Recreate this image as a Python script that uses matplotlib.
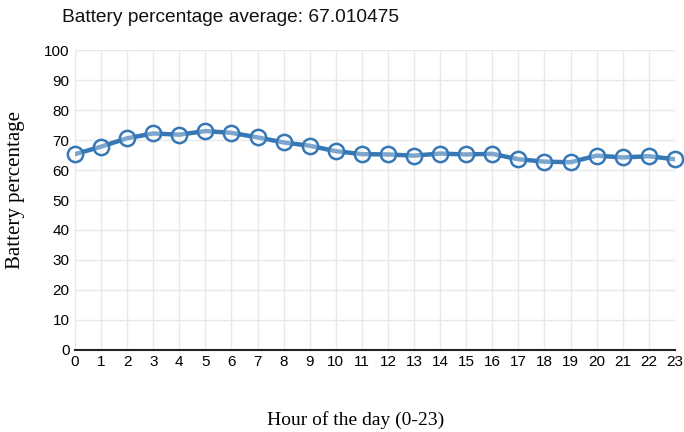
import matplotlib
matplotlib.use("Agg")
import matplotlib.pyplot as plt

# hourly averages
hours = list(range(24))
battery = [65.3, 67.8, 70.6, 72.2, 71.8, 73.0, 72.4, 70.9,
           69.2, 68.1, 66.3, 65.3, 65.2, 64.8, 65.5, 65.2,
           65.4, 63.6, 62.8, 62.6, 64.8, 64.2, 64.6, 63.6]
y_ticks = list(range(0, 101, 10))
title_text = "Battery percentage average: 67.010475"

line_color = "#3677b5"

fig = plt.figure(figsize=(6.84, 4.32), dpi=100)
ax = fig.add_axes([0.1096, 0.19, 0.877, 0.694])

ax.plot(hours, battery, color=line_color, linewidth=3.2, zorder=3,
        solid_capstyle="round", solid_joinstyle="round")
ax.plot(hours, battery, linestyle="none", marker="o", markersize=11,
        markerfacecolor=(1, 1, 1, 0.35), markeredgecolor=line_color,
        markeredgewidth=1.8, zorder=4, clip_on=False)

ax.set_xlim(0, 23)
ax.set_ylim(0, 100)
ax.set_xticks(hours)
ax.set_yticks(y_ticks)
ax.grid(True, color="#e8e8e8", linewidth=1.0)
ax.set_axisbelow(True)

for side in ["top", "right", "left"]:
    ax.spines[side].set_visible(False)
ax.spines["bottom"].set_color("#222222")
ax.spines["bottom"].set_linewidth(1.5)
ax.spines["bottom"].set_zorder(5)

ax.tick_params(axis="both", length=0, labelsize=11, colors="#000000")
ax.tick_params(axis="x", pad=4)
ax.tick_params(axis="y", pad=4)
for lbl in ax.get_xticklabels() + ax.get_yticklabels():
    lbl.set_fontfamily("Liberation Sans")

fig.text(0.091, 0.96, title_text, fontsize=13.8, family="Liberation Sans",
         ha="left", va="center", color="#111111")
fig.text(0.022, 0.56, "Battery percentage", rotation=90, fontsize=15,
         family="Liberation Serif", ha="center", va="center")
fig.text(0.52, 0.028, "Hour of the day (0-23)", fontsize=14,
         family="Liberation Serif", ha="center", va="center")

fig.savefig("out.png", dpi=100)
